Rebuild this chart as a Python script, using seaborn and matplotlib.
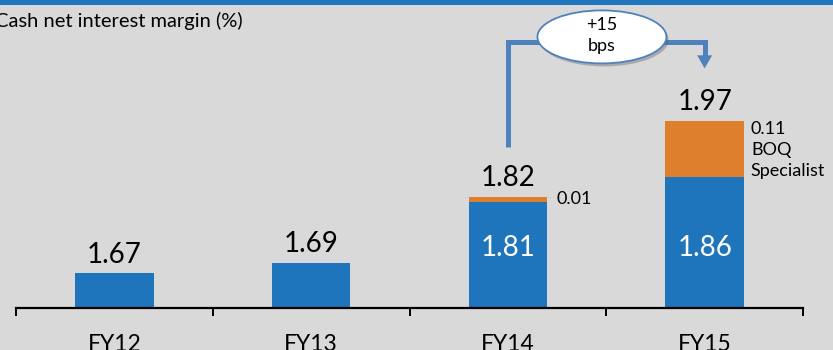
import matplotlib
matplotlib.use("Agg")
import matplotlib.pyplot as plt
from matplotlib.patches import Rectangle, Ellipse
from matplotlib.ticker import FixedLocator
import seaborn as sns

# Cash net interest margin (%) by financial year
years = ["FY12", "FY13", "FY14", "FY15"]
core_nim = [1.67, 1.69, 1.81, 1.86]
specialist_nim = [0.00, 0.00, 0.01, 0.11]
specialist_label = "BOQ\nSpecialist"
title = "Cash net interest margin (%)"
change_bps = 15

total_nim = [round(c + s, 2) for c, s in zip(core_nim, specialist_nim)]

BLUE = "#1f75bb"
ORANGE = "#dd7f2c"
ARROW = "#4f81bd"
BG = "#d9d9d9"

sns.set_style("white")
plt.rcParams["font.family"] = ["Lato", "DejaVu Sans"]

W, H = 833, 350
fig = plt.figure(figsize=(W / 100, H / 100), dpi=100, facecolor=BG)

# axes: baseline at y=307.5 px, categories span x=16..803 px
ax_bottom_px = 307.5
ax = fig.add_axes([16 / W, (H - ax_bottom_px) / H, 787 / W, ax_bottom_px / H])
ax.set_facecolor(BG)

px_per_unit = 507.7
y0 = 1.602
ax.set_ylim(y0, y0 + ax_bottom_px / px_per_unit)

# stacked bars: full total in orange, core margin in blue on top
sns.barplot(x=years, y=total_nim, color=ORANGE, width=0.4, saturation=1,
            ax=ax, linewidth=0)
sns.barplot(x=years, y=core_nim, color=BLUE, width=0.4, saturation=1,
            ax=ax, linewidth=0)
ax.set_xlim(-0.5, len(years) - 0.5)

# axis styling
for side in ["top", "left", "right"]:
    ax.spines[side].set_visible(False)
ax.spines["bottom"].set_linewidth(1.6)
ax.spines["bottom"].set_color("black")
ax.set_yticks([])
ax.set_xlabel("")
ax.set_ylabel("")
ax.tick_params(axis="x", which="major", bottom=True, length=0, pad=19,
               labelsize=16.5, labelcolor="black")
ax.xaxis.set_minor_locator(FixedLocator([i - 0.5 for i in range(len(years) + 1)]))
ax.tick_params(axis="x", which="minor", bottom=True, length=6, width=1.4,
               color="black", direction="out")

# totals above bars
for i, t in enumerate(total_nim):
    ax.annotate(f"{t:.2f}", xy=(i, t), xytext=(0, 7.5), textcoords="offset points",
                ha="center", va="baseline", fontsize=20, color="black")

# core margin inside the stacked bars
for i, (c, s) in enumerate(zip(core_nim, specialist_nim)):
    if s > 0:
        ax.text(i, 1.72, f"{c:.2f}", ha="center", va="center", fontsize=20,
                color="white")

# specialist contribution labels
for i, (c, s) in enumerate(zip(core_nim, specialist_nim)):
    if s <= 0:
        continue
    if s < 0.05:
        ax.annotate(f"{s:.2f}", xy=(i + 0.2, c + s / 2), xytext=(7, 0),
                    textcoords="offset points", ha="left", va="center",
                    fontsize=13, color="black")
    else:
        ax.annotate(f"{s:.2f}\n{specialist_label}", xy=(i + 0.2, c + s),
                    xytext=(5, 0), textcoords="offset points", ha="left",
                    va="top", fontsize=13, color="black", linespacing=1.4)

# change arrow from FY14 to FY15
x_a, x_b = 2, 3
y_start = 1.919
y_top = 2.124
ax.plot([x_a, x_a, x_b, x_b], [y_start, y_top, y_top, 2.095], color=ARROW,
        lw=3.6, solid_joinstyle="miter", solid_capstyle="butt", zorder=4,
        clip_on=False)
ax.annotate("", xy=(x_b, 2.073), xytext=(x_b, 2.100),
            arrowprops=dict(arrowstyle="-|>,head_width=0.27,head_length=0.47",
                            mutation_scale=20, color=ARROW, lw=0,
                            shrinkA=0, shrinkB=0),
            zorder=4, annotation_clip=False)

ex, ey = 2.478, 2.135
ew, eh = 129 / 196.75, 53 / px_per_unit
ax.add_patch(Ellipse((ex + 0.012, ey - 0.006), ew, eh, facecolor="#555555",
                     alpha=0.35, edgecolor="none", zorder=5, clip_on=False))
ax.add_patch(Ellipse((ex, ey), ew, eh, facecolor="white", edgecolor=ARROW,
                     lw=1.3, zorder=6, clip_on=False))
ax.text(ex, ey + 0.003, f"+{change_bps}\nbps", ha="center", va="center",
        fontsize=13, linespacing=1.4, zorder=7, color="black")

# heading band and title
fig.add_artist(Rectangle((0, 1 - 4.7 / H), 1, 4.7 / H, transform=fig.transFigure,
                         facecolor=BLUE, edgecolor="none"))
fig.text(-5 / W, 1 - 26.7 / H, title, ha="left", va="baseline", fontsize=14.5,
         color="black")

fig.savefig("out.png", dpi=100, facecolor=BG)
